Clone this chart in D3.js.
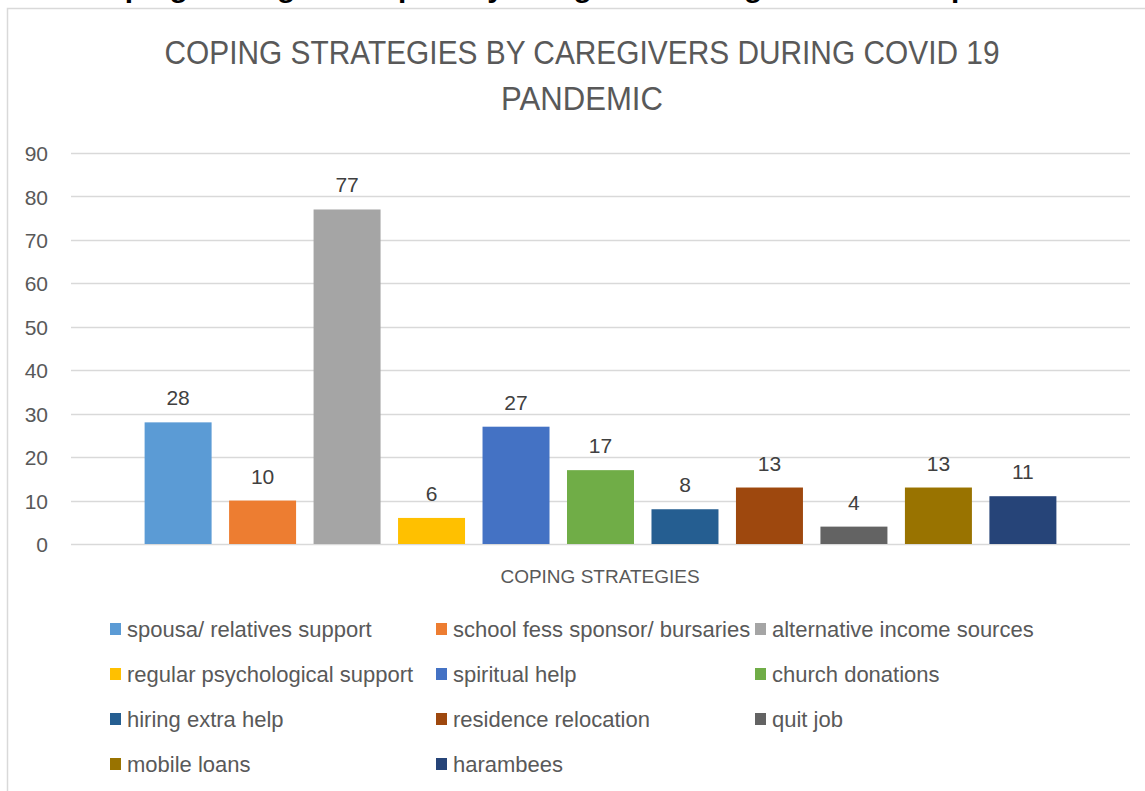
<!DOCTYPE html>
<html>
<head>
<meta charset="utf-8">
<script src="https://cdn.jsdelivr.net/npm/d3@7"></script>
<style>
  html, body { margin: 0; padding: 0; background: #ffffff; }
  svg { display: block; }
</style>
</head>
<body>
<svg id="chart" width="1145" height="791"></svg>
<script>
// ---- data ----
const category = "COPING STRATEGIES";
const series = [
  "spousa/ relatives support",
  "school fess sponsor/ bursaries",
  "alternative income sources",
  "regular psychological support",
  "spiritual help",
  "church donations",
  "hiring extra help",
  "residence relocation",
  "quit job",
  "mobile loans",
  "harambees"
];
const values = [28, 10, 77, 6, 27, 17, 8, 13, 4, 13, 11];
const colors = ["#5B9BD5", "#ED7D31", "#A5A5A5", "#FFC000", "#4472C4", "#70AD47",
                "#255E91", "#9E480E", "#636363", "#997300", "#264478"];
const yTicks = [0, 10, 20, 30, 40, 50, 60, 70, 80, 90];
const titleLines = ["COPING STRATEGIES BY CAREGIVERS DURING COVID 19", "PANDEMIC"];
const captionText = "Coping strategies adopted by caregivers during the covid 19 pandemic";

// ---- layout ----
const svg = d3.select("#chart");
const font = "'Liberation Sans', Arial, sans-serif";
const narrow = "'Liberation Sans Narrow', 'Liberation Sans', Arial, sans-serif";
const plot = { left: 71, right: 1130, top: 153, bottom: 544 };

// caption cut off at the top of the picture (only descenders visible)
svg.append("text")
  .attr("x", 85).attr("y", -3)
  .attr("font-family", font).attr("font-weight", "bold").attr("font-size", 28)
  .attr("fill", "#000")
  .attr("textLength", 1005).attr("lengthAdjust", "spacingAndGlyphs")
  .text(captionText);

// chart frame
svg.append("rect")
  .attr("x", 7.5).attr("y", 8.5)
  .attr("width", 1160).attr("height", 800)
  .attr("fill", "#fff").attr("stroke", "#d9d9d9").attr("stroke-width", 1.5);

// title
const titleWidths = [835, 162];
svg.selectAll("text.title").data(titleLines).join("text")
  .attr("class", "title")
  .attr("x", 582).attr("y", (d, i) => 64 + i * 46)
  .attr("text-anchor", "middle")
  .attr("font-family", narrow)
  .attr("font-size", 34)
  .attr("fill", "#595959")
  .attr("textLength", (d, i) => titleWidths[i])
  .attr("lengthAdjust", "spacingAndGlyphs")
  .text(d => d);

// scales
const y = d3.scaleLinear().domain([0, 90]).range([plot.bottom, plot.top]);
const x0 = d3.scaleBand().domain([category]).range([plot.left, plot.right])
  .paddingInner(0.0747).paddingOuter(0.0747);
const x1 = d3.scaleBand().domain(series).range([x0(category), x0(category) + x0.bandwidth()])
  .paddingInner(0.207).paddingOuter(0);

// gridlines
svg.append("g").selectAll("line").data(yTicks).join("line")
  .attr("x1", plot.left).attr("x2", plot.right)
  .attr("y1", d => Math.round(y(d)) + 0.5).attr("y2", d => Math.round(y(d)) + 0.5)
  .attr("stroke", "#d9d9d9").attr("stroke-width", 1.5);

// y axis labels
const yAxis = d3.axisLeft(y).tickValues(yTicks).tickSize(0).tickPadding(0);
const gy = svg.append("g").attr("transform", "translate(48,0)").call(yAxis);
gy.select(".domain").remove();
gy.selectAll("text")
  .attr("font-family", font).attr("font-size", 21).attr("fill", "#595959")
  .attr("dy", "0.36em");

// bars
svg.append("g").selectAll("rect").data(series).join("rect")
  .attr("x", d => x1(d))
  .attr("y", (d, i) => y(values[i]))
  .attr("width", x1.bandwidth())
  .attr("height", (d, i) => y(0) - y(values[i]))
  .attr("fill", (d, i) => colors[i]);

// data labels
svg.append("g").selectAll("text").data(series).join("text")
  .attr("x", d => x1(d) + x1.bandwidth() / 2)
  .attr("y", (d, i) => y(values[i]) - 17)
  .attr("text-anchor", "middle")
  .attr("font-family", font).attr("font-size", 21).attr("fill", "#404040")
  .text((d, i) => values[i]);

// x axis category label
svg.append("text")
  .attr("x", 600).attr("y", 583)
  .attr("text-anchor", "middle")
  .attr("font-family", font).attr("font-size", 19).attr("fill", "#595959")
  .text(category);

// legend
const colX = [110, 436, 755];
const rowY = [629, 674, 719, 764];
const leg = svg.append("g").selectAll("g").data(series).join("g")
  .attr("transform", (d, i) => `translate(${colX[i % 3]},${rowY[Math.floor(i / 3)]})`);
leg.append("rect")
  .attr("x", 0).attr("y", -6).attr("width", 11).attr("height", 12)
  .attr("fill", (d, i) => colors[i]);
leg.append("text")
  .attr("x", 17).attr("y", 0).attr("dy", "0.36em")
  .attr("font-family", font).attr("font-size", 22).attr("fill", "#595959")
  .text(d => d);
</script>
</body>
</html>
